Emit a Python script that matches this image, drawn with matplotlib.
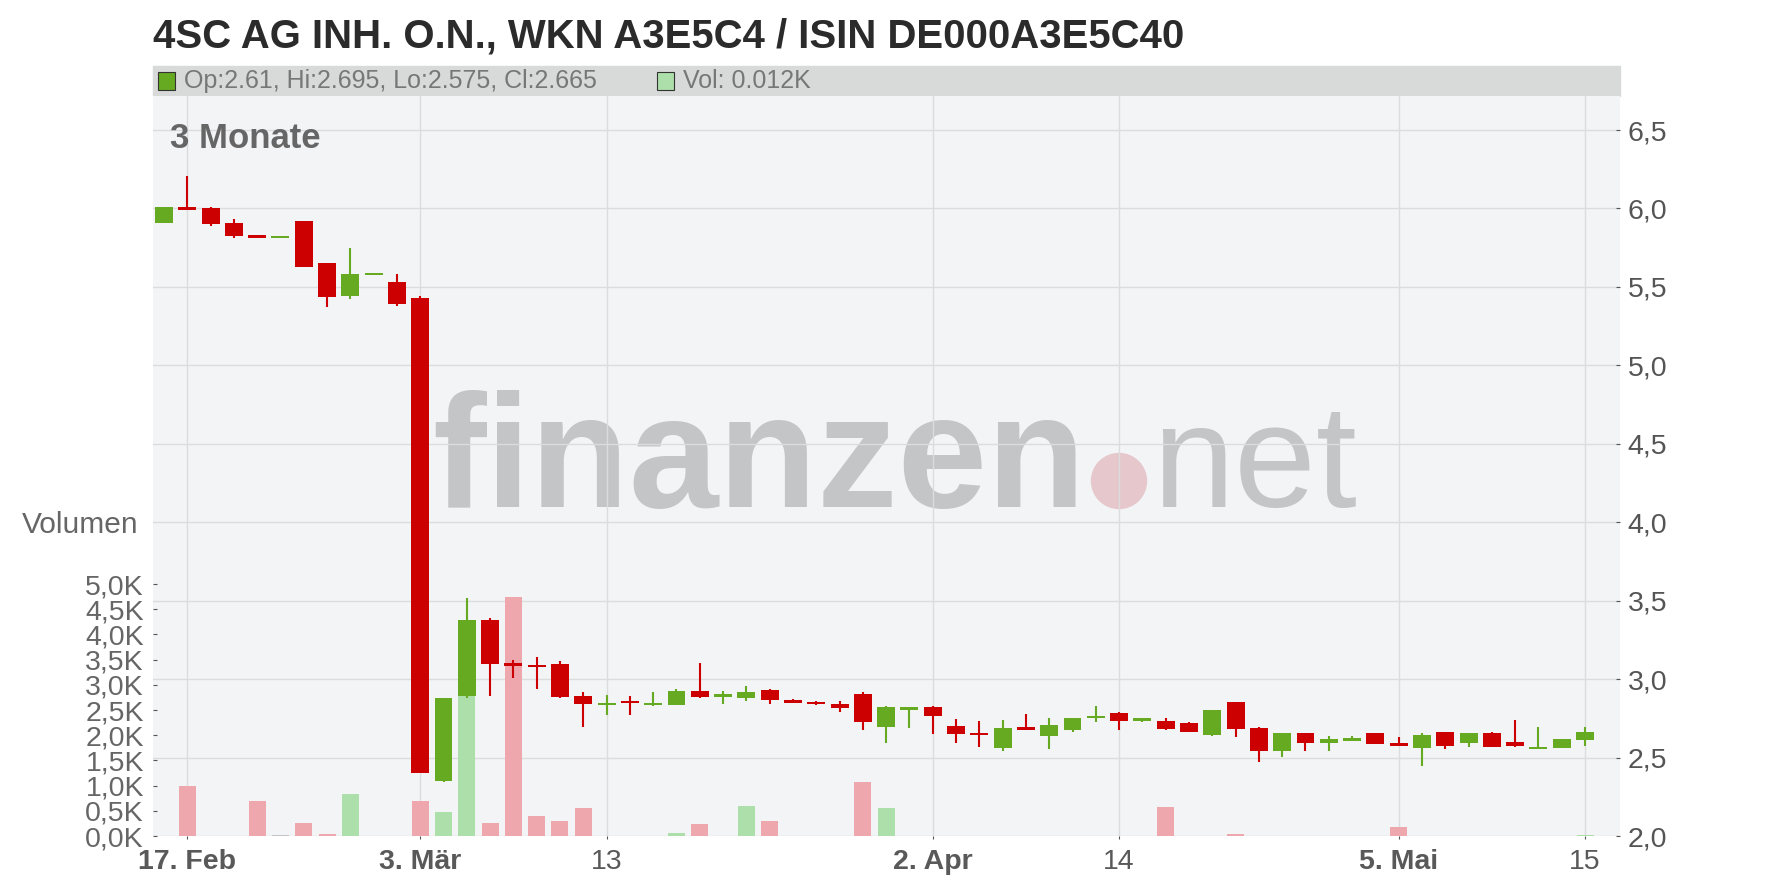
import numpy as np
import matplotlib
matplotlib.use("Agg")
from matplotlib import pyplot as plt
from matplotlib.patches import Rectangle, Ellipse

plt.rcParams['font.family'] = ['Liberation Sans', 'DejaVu Sans']

# daily candles, 14. Feb .. 15. Mai (trading days only)
opens  = [5.91, 6.01, 6.00, 5.905, 5.83, 5.81, 5.92, 5.655, 5.44, 5.575,
          5.53, 5.43, 2.35, 2.89, 3.38, 3.10, 3.09, 3.095, 2.89, 2.835,
          2.86, 2.835, 2.835, 2.925, 2.885, 2.88, 2.93, 2.865, 2.855, 2.84,
          2.905, 2.695, 2.805, 2.82, 2.70, 2.655, 2.56, 2.695, 2.635, 2.675,
          2.75, 2.785, 2.73, 2.73, 2.72, 2.645, 2.855, 2.69, 2.54, 2.655,
          2.59, 2.605, 2.655, 2.59, 2.56, 2.66, 2.59, 2.655, 2.60, 2.555,
          2.56, 2.61]
highs  = [6.01, 6.21, 6.01, 5.93, 5.83, 5.81, 5.92, 5.655, 5.745, 5.585,
          5.58, 5.445, 2.88, 3.52, 3.39, 3.12, 3.14, 3.115, 2.915, 2.90,
          2.89, 2.915, 2.935, 3.10, 2.925, 2.955, 2.935, 2.875, 2.86, 2.86,
          2.915, 2.83, 2.82, 2.83, 2.745, 2.73, 2.74, 2.775, 2.75, 2.75,
          2.83, 2.79, 2.75, 2.75, 2.725, 2.80, 2.855, 2.695, 2.655, 2.655,
          2.635, 2.635, 2.655, 2.63, 2.655, 2.66, 2.655, 2.66, 2.74, 2.695,
          2.62, 2.695]
lows   = [5.91, 5.99, 5.89, 5.81, 5.81, 5.81, 5.63, 5.37, 5.42, 5.575,
          5.38, 2.40, 2.345, 2.88, 2.89, 3.005, 2.94, 2.88, 2.695, 2.77,
          2.77, 2.83, 2.835, 2.88, 2.84, 2.86, 2.84, 2.845, 2.835, 2.79,
          2.675, 2.59, 2.69, 2.65, 2.59, 2.565, 2.54, 2.675, 2.555, 2.66,
          2.725, 2.675, 2.725, 2.675, 2.66, 2.635, 2.63, 2.47, 2.505, 2.54,
          2.54, 2.605, 2.585, 2.575, 2.445, 2.555, 2.565, 2.565, 2.565, 2.555,
          2.56, 2.575]
closes = [6.01, 5.99, 5.90, 5.825, 5.81, 5.81, 5.63, 5.435, 5.58, 5.58,
          5.39, 2.40, 2.88, 3.38, 3.095, 3.085, 3.075, 2.885, 2.84, 2.84,
          2.845, 2.845, 2.925, 2.885, 2.905, 2.915, 2.865, 2.845, 2.84, 2.815,
          2.725, 2.82, 2.82, 2.765, 2.65, 2.645, 2.69, 2.675, 2.705, 2.75,
          2.765, 2.73, 2.75, 2.68, 2.66, 2.80, 2.68, 2.54, 2.655, 2.59,
          2.62, 2.625, 2.585, 2.575, 2.645, 2.575, 2.655, 2.565, 2.575, 2.565,
          2.62, 2.665]
volumes = [0, 1000, 0, 0, 700, 20, 260, 40, 830, 0,
           0, 700, 480, 2780, 260, 4740, 400, 300, 560, 0,
           0, 0, 60, 240, 0, 600, 300, 0, 0, 0,
           1070, 560, 0, 0, 0, 0, 0, 0, 0, 0,
           0, 0, 0, 580, 0, 0, 40, 0, 0, 0,
           0, 0, 0, 180, 0, 0, 0, 0, 0, 0,
           0, 12]

tick_pos = [1, 11, 19, 33, 41, 53, 61]
tick_labels = ["17. Feb", "3. Mär", "13", "2. Apr", "14", "5. Mai", "15"]
tick_bold = [True, True, False, True, False, True, False]

price_ticks = np.arange(2.0, 6.51, 0.5)
vol_ticks = np.arange(0, 5001, 500)

################################################################################

W, H = 1776, 888
fig = plt.figure(figsize=(W / 100, H / 100), dpi=100)

def fx(px):
    return px / W

def fy(py):
    return 1 - py / H

ax = fig.add_axes([fx(153), fy(836), fx(1620) - fx(153), fy(96) - fy(836)])
ax.set_facecolor('#f3f4f6')
axv = ax.twinx()
axc = ax.twinx()

x = np.arange(len(opens))
o = np.array(opens)
c = np.array(closes)
up_col, dn_col = '#66aa22', '#cc0000'
cols = [up_col if cc >= oo else dn_col for oo, cc in zip(o, c)]
vcols = ['#addfaa' if cc > oo else ('#efa7ae' if cc < oo else '#c3c3c3') for oo, cc in zip(o, c)]

# watermark (behind grid)
ax.text(fx(432), fy(507), "finanzen", transform=fig.transFigure, fontsize=116,
        fontweight='bold', color='#c4c5c7', va='baseline', ha='left', zorder=0.1)
ax.text(fx(1152), fy(507), "net", transform=fig.transFigure, fontsize=106,
        color='#c4c5c7', va='baseline', ha='left', zorder=0.1)
ax.add_artist(Ellipse((fx(1119), fy(481)), 55 / W, 55 / H, transform=fig.transFigure,
                      color='#e6c8cc', zorder=0.2))

# volume
axv.bar(x, volumes, width=0.73, color=vcols)

# candles
axc.vlines(x, lows, highs, color=cols, lw=1.5, zorder=1)
body_bot = np.minimum(o, c)
body_h = np.maximum(np.abs(c - o), 0.012)
axc.bar(x, body_h, bottom=body_bot, width=0.77, color=cols, zorder=2)

################################################################################

ax.set_xlim(-0.47, 62.5)
ax.set_ylim(2.0, 6.717)
axc.set_ylim(2.0, 6.717)
axv.set_ylim(0, 14683)

ax.set_axisbelow(True)
ax.grid(True, color='#dcdcdc', lw=1.0)

ax.set_yticks(price_ticks)
ax.set_yticklabels([f"{p:.1f}".replace('.', ',') for p in price_ticks])
ax.yaxis.tick_right()
ax.tick_params(axis='y', direction='in', length=3, color='#555555', labelsize=20.5,
               labelcolor='#555555', pad=5.5)

ax.set_xticks(tick_pos)
ax.set_xticklabels(tick_labels)
ax.tick_params(axis='x', direction='out', length=2, color='#555555', labelsize=20.5,
               labelcolor='#595959', pad=7.5)
for lbl, b in zip(ax.get_xticklabels(), tick_bold):
    lbl.set_fontweight('bold' if b else 'normal')

axv.set_yticks(vol_ticks)
axv.set_yticklabels([f"{v / 1000:.1f}K".replace('.', ',') for v in vol_ticks])
axv.yaxis.tick_left()
axv.tick_params(axis='y', direction='in', length=3, color='#555555', labelsize=20.5,
                labelcolor='#666666', pad=6.5)

axc.set_yticks([])
for a in (ax, axv, axc):
    for s in a.spines.values():
        s.set_visible(False)

################################################################################

fig.text(fx(153), fy(48), "4SC AG INH. O.N., WKN A3E5C4 / ISIN DE000A3E5C40",
         fontsize=28.9, fontweight='bold', color='#2b2b2b', va='baseline')

fig.add_artist(Rectangle((fx(153), fy(96)), fx(1620) - fx(153), 30 / H,
                         transform=fig.transFigure, color='#d8d9d9', zorder=0))
fig.add_artist(Rectangle((fx(158), fy(90)), 17 / W, 18 / H, transform=fig.transFigure,
                         facecolor='#66aa22', edgecolor='#333333', lw=0.8))
fig.text(fx(184), fy(81), "Op:2.61, Hi:2.695, Lo:2.575, Cl:2.665", fontsize=18,
         color='#777777', va='center')
fig.add_artist(Rectangle((fx(657), fy(90)), 17 / W, 18 / H, transform=fig.transFigure,
                         facecolor='#addfaa', edgecolor='#333333', lw=0.8))
fig.text(fx(683), fy(81), "Vol: 0.012K", fontsize=18, color='#777777', va='center')

fig.text(fx(170), fy(148), "3 Monate", fontsize=25, fontweight='bold', color='#666666',
         va='baseline')
fig.text(fx(138), fy(533), "Volumen", fontsize=21.5, color='#666666', ha='right',
         va='baseline')

fig.savefig("out.png", dpi=100)
